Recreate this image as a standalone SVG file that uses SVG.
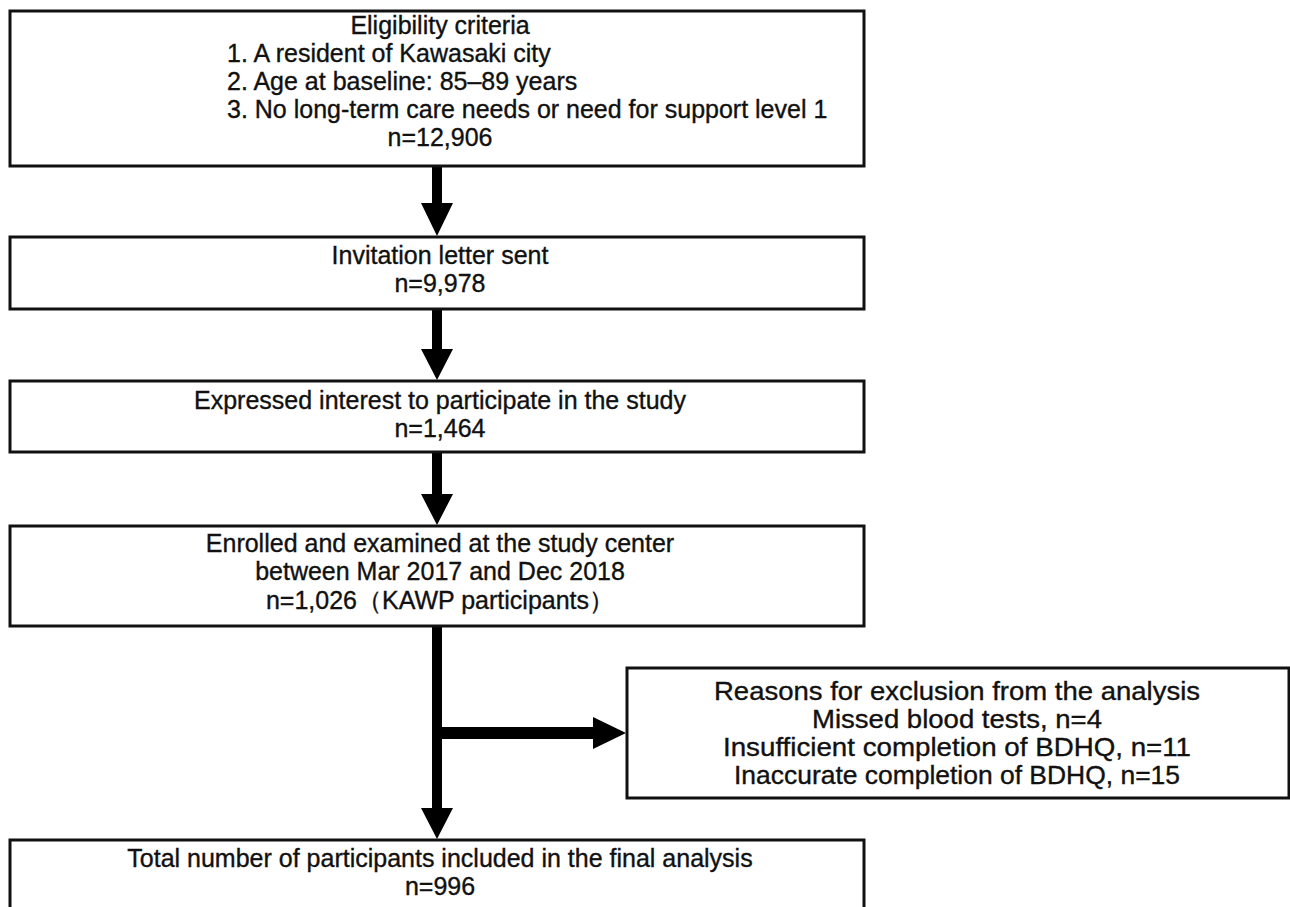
<svg xmlns="http://www.w3.org/2000/svg" width="1290" height="907" viewBox="0 0 1290 907">
<style>
.box{fill:#fff;stroke:#111;stroke-width:3}
.t{font-family:"Liberation Sans",Arial,sans-serif;font-size:25px;fill:#111;stroke:#111;stroke-width:0.35;text-anchor:middle}
.l{text-anchor:start}
.arr{fill:#000}
</style>
<rect width="1290" height="907" fill="#fff"/>
<g id="connectors">
<polygon class="arr" points="432,166 442,166 442,203 453,203 437,236 421,203 432,203"/>
<polygon class="arr" points="432,309 442,309 442,349 453,349 437,380 421,349 432,349"/>
<polygon class="arr" points="432,452 442,452 442,494 453,494 437,525 421,494 432,494"/>
<polygon class="arr" points="432,626 442,626 442,808 453,808 437,839 421,808 432,808"/>
<polygon class="arr" points="442,727 593,727 593,717 626,733 593,749 593,739 442,739"/>
</g>
<g id="eligibility">
<rect class="box" x="10" y="11" width="854" height="155"/>
<text class="t" x="440" y="34">Eligibility criteria</text>
<text class="t l" x="227" y="62">1. A resident of Kawasaki city</text>
<text class="t l" x="227" y="90">2. Age at baseline: 85–89 years</text>
<text class="t l" x="227" y="118">3. No long-term care needs or need for support level 1</text>
<text class="t" x="440" y="146">n=12,906</text>
</g>
<g id="invitation">
<rect class="box" x="10" y="237" width="854" height="72"/>
<text class="t" x="440" y="264">Invitation letter sent</text>
<text class="t" x="440" y="292">n=9,978</text>
</g>
<g id="interest">
<rect class="box" x="10" y="381" width="854" height="71"/>
<text class="t" x="440" y="409">Expressed interest to participate in the study</text>
<text class="t" x="440" y="437">n=1,464</text>
</g>
<g id="enrolled">
<rect class="box" x="10" y="526" width="854" height="100"/>
<text class="t" x="440" y="552">Enrolled and examined at the study center</text>
<text class="t" x="440" y="580">between Mar 2017 and Dec 2018</text>
<text class="t" x="440" y="609">n=1,026（KAWP participants）</text>
</g>
<g id="exclusion">
<rect class="box" x="627" y="668" width="662" height="130"/>
<text class="t" x="957" y="700" textLength="486" lengthAdjust="spacingAndGlyphs">Reasons for exclusion from the analysis</text>
<text class="t" x="957" y="728" textLength="290" lengthAdjust="spacingAndGlyphs">Missed blood tests, n=4</text>
<text class="t" x="957" y="756" textLength="468" lengthAdjust="spacingAndGlyphs">Insufficient completion of BDHQ, n=11</text>
<text class="t" x="957" y="784" textLength="446" lengthAdjust="spacingAndGlyphs">Inaccurate completion of BDHQ, n=15</text>
</g>
<g id="final">
<rect class="box" x="10" y="840" width="854" height="80"/>
<text class="t" x="440" y="867">Total number of participants included in the final analysis</text>
<text class="t" x="440" y="895">n=996</text>
</g>
</svg>
